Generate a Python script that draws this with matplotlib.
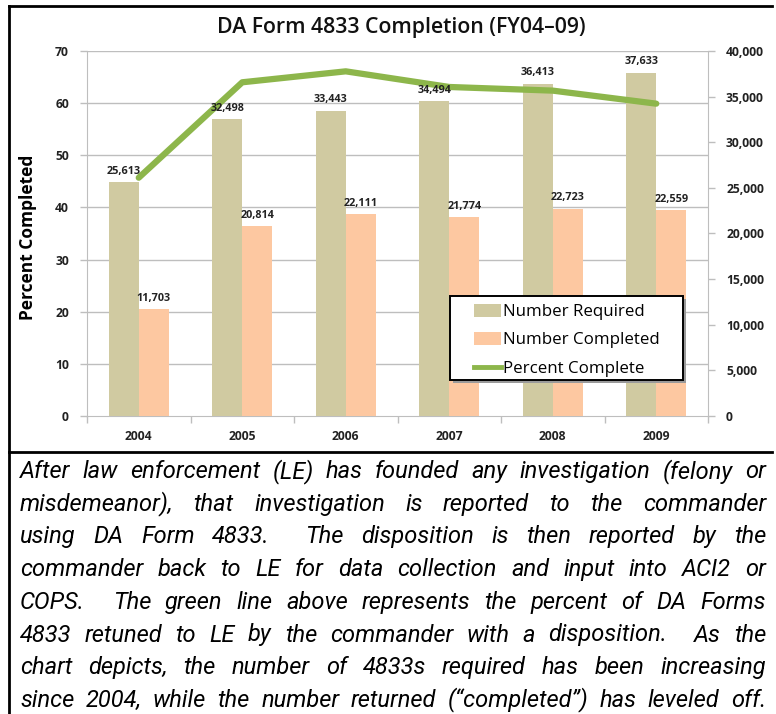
import matplotlib
matplotlib.use("Agg")
import matplotlib.pyplot as plt
import numpy as np
from matplotlib.lines import Line2D
from matplotlib.patches import Patch, Rectangle

W, H = 776, 714

years = ["2004", "2005", "2006", "2007", "2008", "2009"]
number_required = [25613, 32498, 33443, 34494, 36413, 37633]
number_completed = [11703, 20814, 22111, 21774, 22723, 22559]
percent_complete = [45.7, 64.0, 66.1, 63.1, 62.4, 59.9]

title = "DA Form 4833 Completion (FY04\u201309)"
ylabel = "Percent Completed"
legend_labels = ["Number Required", "Number Completed", "Percent Complete"]
pct_ticks = [0, 10, 20, 30, 40, 50, 60, 70]
cnt_ticks = [0, 5000, 10000, 15000, 20000, 25000, 30000, 35000, 40000]

paragraph_lines = [
    "After law enforcement (LE) has founded any investigation (felony or",
    "misdemeanor), that investigation is reported to the commander",
    "using DA Form 4833.  The disposition is then reported by the",
    "commander back to LE for data collection and input into ACI2 or",
    "COPS.  The green line above represents the percent of DA Forms",
    "4833 retuned to LE by the commander with a disposition.  As the",
    "chart depicts, the number of 4833s required has been increasing",
    "since 2004, while the number returned (\u201ccompleted\u201d) has leveled off.",
]

C_REQ = "#D0CAA1"
C_COMP = "#FDC8A1"
C_LINE = "#8DB64B"
C_GRID = "#BEBEBE"
FONT = "Open Sans"
PFONT = "Roboto"

fig = plt.figure(figsize=(W / 100, H / 100), dpi=100)
renderer = fig.canvas.get_renderer()


def px(x, y):
    return x / W, 1 - y / H


def fit_size(txt, target_px, base, **kw):
    t = fig.text(0, 0, txt, fontsize=base, **kw)
    w = t.get_window_extent(renderer=renderer).width
    t.remove()
    return base * target_px / w


# axes placement
L, R, T, B = 87, 708, 51, 416
rect = [L / W, 1 - B / H, (R - L) / W, (B - T) / H]

ax_pct = fig.add_axes(rect)
ax_cnt = fig.add_axes(rect, sharex=ax_pct)
ax_line = fig.add_axes(rect, sharex=ax_pct)
for a in (ax_cnt, ax_line):
    a.patch.set_visible(False)
ax_pct.set_zorder(0)
ax_cnt.set_zorder(1)
ax_line.set_zorder(2)

x = np.arange(len(years))
ax_pct.set_xlim(-0.5, len(years) - 0.5)
ax_pct.set_ylim(0, 70)
ax_line.set_ylim(0, 70)
ax_cnt.set_ylim(0, 40000)

tick_font = dict(fontfamily=FONT, fontweight="bold", fontsize=8.7)

# gridlines
for t in pct_ticks[1:]:
    ax_pct.axhline(t, color=C_GRID, lw=1.0, zorder=0)

# percent axis (left)
ax_pct.set_yticks(pct_ticks)
ax_pct.set_yticklabels([str(t) for t in pct_ticks], **tick_font,
                       color="#222222")
ax_pct.tick_params(axis="y", length=5, width=1, color=C_GRID, pad=8)
ax_pct.set_xticks(np.arange(-0.5, len(years), 1.0))
ax_pct.set_xticklabels([])
ax_pct.tick_params(axis="x", length=5, width=1, color=C_GRID)
for s in ["top", "right"]:
    ax_pct.spines[s].set_visible(False)
for s in ["left", "bottom"]:
    ax_pct.spines[s].set_color(C_GRID)

ylab_fs = fit_size(ylabel, 165, 12, fontfamily=FONT, fontweight="bold")
fig.text(*px(28, 237), ylabel, rotation=90, ha="center", va="center",
         fontfamily=FONT, fontweight="bold", fontsize=ylab_fs, color="black")

# category labels
for xi, yr in zip(x, years):
    ax_pct.text(xi, -4.0, yr, ha="center", va="center", **tick_font,
                color="#222222")

# bars (count axis)
bw = 0.29
ax_cnt.bar(x, number_required, width=-bw, align="edge", color=C_REQ, zorder=2)
ax_cnt.bar(x, number_completed, width=bw, align="edge", color=C_COMP, zorder=2)
lab_font = dict(fontfamily=FONT, fontweight="bold", fontsize=7.8,
                color="#222222")
for xi, v in zip(x, number_required):
    ax_line.text(xi - bw / 2, v + 600, f"{v:,}", ha="center", va="bottom",
                 transform=ax_cnt.transData, zorder=5, **lab_font)
for xi, v in zip(x, number_completed):
    ax_line.text(xi + bw / 2, v + 600, f"{v:,}", ha="center", va="bottom",
                 transform=ax_cnt.transData, zorder=5, **lab_font)
ax_cnt.yaxis.tick_right()
ax_cnt.set_yticks(cnt_ticks)
ax_cnt.set_yticklabels([f"{t:,}" for t in cnt_ticks], **tick_font,
                       color="#222222")
ax_cnt.tick_params(axis="y", length=5, width=1, color=C_GRID, pad=8)
ax_cnt.tick_params(axis="x", bottom=False, labelbottom=False)
for s in ["top", "left", "bottom"]:
    ax_cnt.spines[s].set_visible(False)
ax_cnt.spines["right"].set_color(C_GRID)

# line
ax_line.plot(x, percent_complete, color=C_LINE, lw=4.5,
             solid_capstyle="round", solid_joinstyle="round", zorder=3)
ax_line.axis("off")

# legend box (manual frame with shadow)
lx0, ly0, lx1, ly1 = 450, 296, 683, 380
fig.add_artist(Rectangle(px(lx0 + 3, ly1 + 3), (lx1 - lx0) / W,
                         (ly1 - ly0) / H, transform=fig.transFigure,
                         facecolor="#9a9a9a", edgecolor="none", zorder=9))
fig.add_artist(Rectangle(px(lx0, ly1), (lx1 - lx0) / W, (ly1 - ly0) / H,
                         transform=fig.transFigure, facecolor="white",
                         edgecolor="black", lw=1.4, zorder=10))
handles = [Patch(facecolor=C_REQ, edgecolor="none"),
           Patch(facecolor=C_COMP, edgecolor="none"),
           Line2D([0], [0], color=C_LINE, lw=3.5)]
leg_fs = fit_size(legend_labels[1], 156, 11, fontfamily=FONT)
leg = fig.legend(handles, legend_labels, loc="upper left",
                 bbox_to_anchor=px(469, 298.5), bbox_transform=fig.transFigure,
                 prop={"family": FONT, "size": leg_fs}, frameon=False,
                 handlelength=1.6, handleheight=0.8, handletextpad=0.12,
                 labelspacing=0.72, borderpad=0.3, borderaxespad=0)
leg.set_zorder(11)

# title
title_fs = fit_size(title, 373, 14, fontfamily=FONT, fontweight="semibold")
fig.text(*px(401, 27), title, ha="center", va="center", fontfamily=FONT,
         fontweight="semibold", fontsize=title_fs, color="#111111")

# frame lines
fig.add_artist(Line2D([9 / W, 772 / W], [1 - 6 / H, 1 - 6 / H],
                      transform=fig.transFigure, color="black", lw=2))
fig.add_artist(Line2D([9 / W, 772 / W], [1 - 452 / H, 1 - 452 / H],
                      transform=fig.transFigure, color="black", lw=2))
fig.add_artist(Line2D([9 / W, 9 / W], [1 - 6 / H, 0],
                      transform=fig.transFigure, color="black", lw=2))

# justified paragraph (double spaces kept as two stretched gaps)
x0, x1 = 20, 766
base = 14.0
nat = []
for line in paragraph_lines:
    t = fig.text(0, 0, line, fontfamily=PFONT, fontstyle="italic",
                 fontsize=base)
    nat.append(t.get_window_extent(renderer=renderer).width)
    t.remove()
fs = min(base * (x1 - x0) / max(nat) * 0.99, 17.0)
for i, line in enumerate(paragraph_lines):
    yb = 478 + 32.7 * i
    tokens = line.split(" ")
    texts = []
    widths = []
    for w in tokens:
        if w:
            t = fig.text(0, 0, w, fontfamily=PFONT, fontstyle="italic",
                         fontsize=fs, ha="left", va="baseline",
                         color="black")
            texts.append(t)
            widths.append(t.get_window_extent(renderer=renderer).width)
        else:
            texts.append(None)
            widths.append(0.0)
    gap = (x1 - x0 - sum(widths)) / max(len(tokens) - 1, 1)
    cx = x0
    for t, wd in zip(texts, widths):
        if t is not None:
            t.set_position(px(cx, yb))
        cx += wd + gap

fig.savefig("out.png", dpi=100)
